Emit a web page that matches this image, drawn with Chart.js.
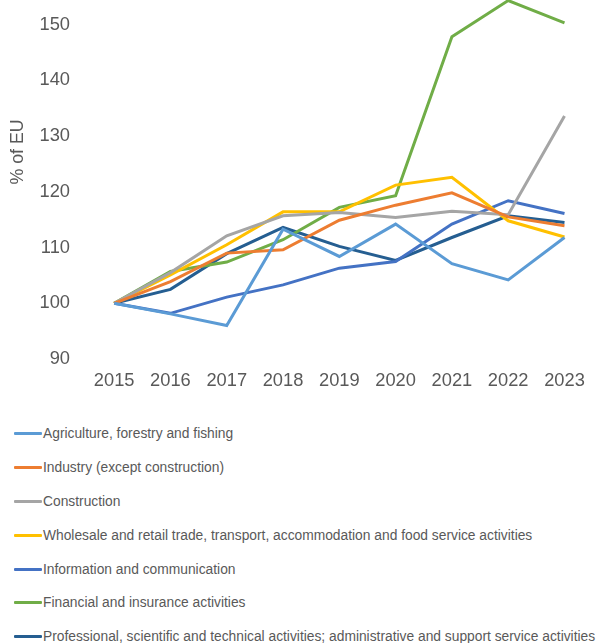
<!DOCTYPE html>
<html lang="en">
<head>
  <meta charset="UTF-8">
  <title>Gross value added by activity, % of EU</title>
  <script src="https://cdn.jsdelivr.net/npm/chart.js"></script>
  <style>
    body { margin: 0; background: #fff; font-family: "Liberation Sans", Arial, sans-serif; }
    .wrap { position: relative; width: 596px; height: 643px; overflow: hidden; }
    .chart-box { position: absolute; left: 0; top: 0; width: 596px; height: 403px; }
    #legend { position: absolute; left: 14px; top: 417px; margin: 0; padding: 0; list-style: none; }
    #legend li { height: 33.8px; display: flex; align-items: center; font-size: 13.8px; color: #595959; white-space: nowrap; }
    #legend li span { display: inline-block; width: 28px; height: 3px; margin-right: 1px; border-radius: 1px; }
  </style>
</head>
<body>

<div class="wrap">
  <div class="chart-box">
    <canvas id="grafik"></canvas>
  </div>
  <ul id="legend"></ul>
</div>

<script>
  const years = ['2015', '2016', '2017', '2018', '2019', '2020', '2021', '2022', '2023'];

  const agriculture  = [100, 98.1, 96.0, 113.3, 108.4, 114.2, 107.1, 104.2, 111.8];
  const industry     = [100, 103.9, 109.0, 109.6, 114.9, 117.6, 119.8, 115.5, 113.9];
  const construction = [100, 105.5, 112.1, 115.7, 116.3, 115.4, 116.5, 115.9, 133.6];
  const wholesale    = [100, 105.1, 110.5, 116.4, 116.4, 121.2, 122.6, 114.8, 111.9];
  const information  = [100, 98.2, 101.1, 103.3, 106.3, 107.5, 114.2, 118.4, 116.1];
  const financial    = [100, 105.7, 107.4, 111.4, 117.2, 119.3, 147.8, 154.3, 150.3];
  const professional = [100, 102.5, 108.9, 113.6, 110.2, 107.7, 111.8, 115.7, 114.5];

  const yTicks = [90, 100, 110, 120, 130, 140, 150];

  const series = [
    { label: 'Agriculture, forestry and fishing', data: agriculture, color: '#5b9bd5' },
    { label: 'Industry (except construction)', data: industry, color: '#ed7d31' },
    { label: 'Construction', data: construction, color: '#a5a5a5' },
    { label: 'Wholesale and retail trade, transport, accommodation and food service activities', data: wholesale, color: '#ffc000' },
    { label: 'Information and communication', data: information, color: '#4472c4' },
    { label: 'Financial and insurance activities', data: financial, color: '#70ad47' },
    { label: 'Professional, scientific and technical activities; administrative and support service activities', data: professional, color: '#255e91' }
  ];

  const fontFamily = '"Liberation Sans", Arial, sans-serif';

  // y-axis title, placed like the original (not centred on the plot)
  const judulSumbu = {
    id: 'judulSumbu',
    afterDraw(chart) {
      const ctx = chart.ctx;
      ctx.save();
      ctx.translate(18, 152);
      ctx.rotate(-Math.PI / 2);
      ctx.font = '17.8px ' + fontFamily;
      ctx.fillStyle = '#595959';
      ctx.textAlign = 'center';
      ctx.textBaseline = 'middle';
      ctx.fillText('% of EU', 0, 0);
      ctx.restore();
    }
  };

  const chart = new Chart(document.getElementById('grafik'), {
    type: 'line',
    data: {
      labels: years,
      datasets: series.map(s => ({
        label: s.label,
        data: s.data,
        borderColor: s.color,
        backgroundColor: s.color,
        borderWidth: 3,
        pointRadius: 0,
        tension: 0,
        fill: false
      }))
    },
    options: {
      responsive: true,
      maintainAspectRatio: false,
      animation: false,
      layout: { padding: { left: 0, right: 3, top: 0, bottom: 0 } },
      plugins: {
        legend: { display: false },
        tooltip: { enabled: false }
      },
      scales: {
        x: {
          offset: true,
          grid: { display: false, drawTicks: false },
          border: { display: false },
          ticks: {
            padding: 11,
            color: '#595959',
            font: { family: fontFamily, size: 18.3 },
            maxRotation: 0
          }
        },
        y: {
          min: 90,
          max: 154.4,
          grid: { display: false, drawTicks: false },
          border: { display: false },
          afterBuildTicks(scale) {
            scale.ticks = yTicks.map(v => ({ value: v }));
          },
          afterFit(scale) {
            scale.width = 86;
            scale.paddingTop = 0;
            scale.paddingBottom = 0;
          },
          ticks: {
            padding: 16,
            color: '#595959',
            font: { family: fontFamily, size: 18.3 }
          }
        }
      }
    },
    plugins: [judulSumbu]
  });

  // legend as plain list under the chart
  const legend = document.getElementById('legend');
  chart.data.datasets.forEach(ds => {
    const li = document.createElement('li');
    li.innerHTML = `<span style="background:${ds.borderColor}"></span>${ds.label}`;
    legend.appendChild(li);
  });
</script>

</body>
</html>
